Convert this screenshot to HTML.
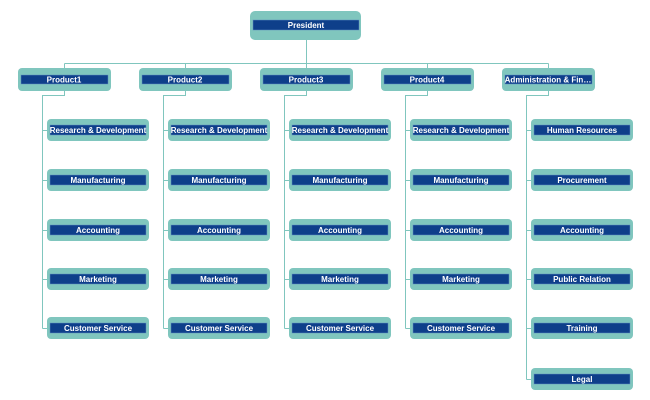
<!DOCTYPE html>
<html><head><meta charset="utf-8"><style>
html,body{margin:0;padding:0;background:#fff;}
svg{display:block;}
text{font-family:"Liberation Sans",sans-serif;font-size:8px;font-weight:bold;fill:#fff;text-anchor:middle;}
.o{fill:#80C6BE;}
.i{fill:#0E3F8A;stroke:#5f8fc0;stroke-width:0.5;}
.l{stroke:#80C6BE;stroke-width:1;fill:none;}
</style></head><body>
<svg width="650" height="400" viewBox="0 0 650 400" xmlns="http://www.w3.org/2000/svg">
<!-- connectors -->
<path class="l" d="M306.5 40V63.5M64.5 63.5H548.5M64.5 63.5V68M185.5 63.5V68M306.5 63.5V68M427.5 63.5V68M548.5 63.5V68"/>
<path class="l" d="M64.5 91V95.5H42.5V328.5M42.5 130.5H47M42.5 180.5H47M42.5 230.5H47M42.5 279.5H47M42.5 328.5H47"/>
<path class="l" d="M185.5 91V95.5H163.5V328.5M163.5 130.5H168M163.5 180.5H168M163.5 230.5H168M163.5 279.5H168M163.5 328.5H168"/>
<path class="l" d="M306.5 91V95.5H284.5V328.5M284.5 130.5H289M284.5 180.5H289M284.5 230.5H289M284.5 279.5H289M284.5 328.5H289"/>
<path class="l" d="M427.5 91V95.5H405.5V328.5M405.5 130.5H410M405.5 180.5H410M405.5 230.5H410M405.5 279.5H410M405.5 328.5H410"/>
<path class="l" d="M548.5 91V95.5H526.5V379.5M526.5 130.5H531M526.5 180.5H531M526.5 230.5H531M526.5 279.5H531M526.5 328.5H531M526.5 379.5H531"/>

<!-- President -->
<rect class="o" x="250" y="11" width="111" height="29" rx="5"/>
<rect class="i" x="253" y="20" width="106" height="10"/>
<text x="306" y="28">President</text>

<!-- Level 2 -->
<rect class="o" x="18" y="68" width="93" height="23" rx="4"/><rect class="i" x="21" y="75" width="87" height="9"/><text x="64" y="82.5">Product1</text>
<rect class="o" x="139" y="68" width="93" height="23" rx="4"/><rect class="i" x="142" y="75" width="87" height="9"/><text x="185" y="82.5">Product2</text>
<rect class="o" x="260" y="68" width="93" height="23" rx="4"/><rect class="i" x="263" y="75" width="87" height="9"/><text x="306" y="82.5">Product3</text>
<rect class="o" x="381" y="68" width="93" height="23" rx="4"/><rect class="i" x="384" y="75" width="87" height="9"/><text x="427" y="82.5">Product4</text>
<rect class="o" x="502" y="68" width="93" height="23" rx="4"/><rect class="i" x="505" y="75" width="87" height="9"/><text x="548" y="82.5">Administration &amp; Fin…</text>

<!-- Column 1 -->
<g>
<rect class="o" x="47" y="119" width="102" height="22" rx="4"/><rect class="i" x="50" y="125" width="96" height="10"/><text x="98" y="133">Research &amp; Development</text>
<rect class="o" x="47" y="169" width="102" height="22" rx="4"/><rect class="i" x="50" y="175" width="96" height="10"/><text x="98" y="183">Manufacturing</text>
<rect class="o" x="47" y="219" width="102" height="22" rx="4"/><rect class="i" x="50" y="225" width="96" height="10"/><text x="98" y="233">Accounting</text>
<rect class="o" x="47" y="268" width="102" height="22" rx="4"/><rect class="i" x="50" y="274" width="96" height="10"/><text x="98" y="282">Marketing</text>
<rect class="o" x="47" y="317" width="102" height="22" rx="4"/><rect class="i" x="50" y="323" width="96" height="10"/><text x="98" y="331">Customer Service</text>
</g>
<!-- Column 2 -->
<g>
<rect class="o" x="168" y="119" width="102" height="22" rx="4"/><rect class="i" x="171" y="125" width="96" height="10"/><text x="219" y="133">Research &amp; Development</text>
<rect class="o" x="168" y="169" width="102" height="22" rx="4"/><rect class="i" x="171" y="175" width="96" height="10"/><text x="219" y="183">Manufacturing</text>
<rect class="o" x="168" y="219" width="102" height="22" rx="4"/><rect class="i" x="171" y="225" width="96" height="10"/><text x="219" y="233">Accounting</text>
<rect class="o" x="168" y="268" width="102" height="22" rx="4"/><rect class="i" x="171" y="274" width="96" height="10"/><text x="219" y="282">Marketing</text>
<rect class="o" x="168" y="317" width="102" height="22" rx="4"/><rect class="i" x="171" y="323" width="96" height="10"/><text x="219" y="331">Customer Service</text>
</g>
<!-- Column 3 -->
<g>
<rect class="o" x="289" y="119" width="102" height="22" rx="4"/><rect class="i" x="292" y="125" width="96" height="10"/><text x="340" y="133">Research &amp; Development</text>
<rect class="o" x="289" y="169" width="102" height="22" rx="4"/><rect class="i" x="292" y="175" width="96" height="10"/><text x="340" y="183">Manufacturing</text>
<rect class="o" x="289" y="219" width="102" height="22" rx="4"/><rect class="i" x="292" y="225" width="96" height="10"/><text x="340" y="233">Accounting</text>
<rect class="o" x="289" y="268" width="102" height="22" rx="4"/><rect class="i" x="292" y="274" width="96" height="10"/><text x="340" y="282">Marketing</text>
<rect class="o" x="289" y="317" width="102" height="22" rx="4"/><rect class="i" x="292" y="323" width="96" height="10"/><text x="340" y="331">Customer Service</text>
</g>
<!-- Column 4 -->
<g>
<rect class="o" x="410" y="119" width="102" height="22" rx="4"/><rect class="i" x="413" y="125" width="96" height="10"/><text x="461" y="133">Research &amp; Development</text>
<rect class="o" x="410" y="169" width="102" height="22" rx="4"/><rect class="i" x="413" y="175" width="96" height="10"/><text x="461" y="183">Manufacturing</text>
<rect class="o" x="410" y="219" width="102" height="22" rx="4"/><rect class="i" x="413" y="225" width="96" height="10"/><text x="461" y="233">Accounting</text>
<rect class="o" x="410" y="268" width="102" height="22" rx="4"/><rect class="i" x="413" y="274" width="96" height="10"/><text x="461" y="282">Marketing</text>
<rect class="o" x="410" y="317" width="102" height="22" rx="4"/><rect class="i" x="413" y="323" width="96" height="10"/><text x="461" y="331">Customer Service</text>
</g>
<!-- Column 5 -->
<g>
<rect class="o" x="531" y="119" width="102" height="22" rx="4"/><rect class="i" x="534" y="125" width="96" height="10"/><text x="582" y="133">Human Resources</text>
<rect class="o" x="531" y="169" width="102" height="22" rx="4"/><rect class="i" x="534" y="175" width="96" height="10"/><text x="582" y="183">Procurement</text>
<rect class="o" x="531" y="219" width="102" height="22" rx="4"/><rect class="i" x="534" y="225" width="96" height="10"/><text x="582" y="233">Accounting</text>
<rect class="o" x="531" y="268" width="102" height="22" rx="4"/><rect class="i" x="534" y="274" width="96" height="10"/><text x="582" y="282">Public Relation</text>
<rect class="o" x="531" y="317" width="102" height="22" rx="4"/><rect class="i" x="534" y="323" width="96" height="10"/><text x="582" y="331">Training</text>
<rect class="o" x="531" y="368" width="102" height="22" rx="4"/><rect class="i" x="534" y="374" width="96" height="10"/><text x="582" y="382">Legal</text>
</g>
</svg>
</body></html>
